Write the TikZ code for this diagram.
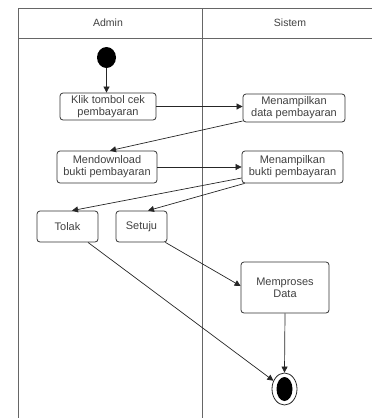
\documentclass[tikz,border=0pt]{standalone}
\usepackage{fontspec}
\setmainfont{Liberation Sans}
\usetikzlibrary{arrows.meta,shapes.geometric}
\begin{document}
\begin{tikzpicture}[x=1pt,y=-1pt,
  act/.style={draw=black!80,line width=0.8pt,rounded corners=3pt,align=center,inner sep=0pt,font=\fontsize{11}{12}\selectfont,text=black!75},
  lane/.style={draw=black!60,line width=1pt},
  flow/.style={draw=black!85,line width=0.7pt,-{Triangle[length=6pt,width=6pt]}},
  lbl/.style={font=\fontsize{10.5}{12}\selectfont,text=black!75}]
\useasboundingbox (0,0) rectangle (372,418);
% swimlanes
\draw[lane] (372,8) -- (18,8) -- (18,418);
\draw[lane] (18,38) -- (372,38);
\draw[lane] (202,8) -- (202,418);
\node[lbl] (hadmin) at (108,23) {Admin};
\node[lbl] (hsistem) at (290,23) {Sistem};
% nodes
\node[ellipse,fill=black,minimum width=19pt,minimum height=21pt,inner sep=0pt] (start) at (106.5,57.5) {};
\node[act,minimum width=96pt,minimum height=27pt] (klik) at (108,106.5) {Klik tombol cek\\pembayaran};
\node[act,minimum width=102pt,minimum height=28pt] (mdata) at (294,108) {Menampilkan\\data pembayaran};
\node[act,minimum width=100pt,minimum height=32pt] (mdown) at (107,167) {Mendownload\\bukti pembayaran};
\node[act,minimum width=101pt,minimum height=32pt] (mbukti) at (292.5,167) {Menampilkan\\bukti pembayaran};
\node[act,minimum width=61pt,minimum height=31pt] (tolak) at (67.5,226.5) {Tolak};
\node[act,minimum width=51pt,minimum height=31pt] (setuju) at (141.5,226.5) {Setuju};
\node[act,minimum width=88pt,minimum height=51pt] (proses) at (285,287.5) {Memproses\\Data};
\node[ellipse,draw=black!85,line width=0.8pt,minimum width=25pt,minimum height=32pt,inner sep=0pt] (final) at (284.5,389) {};
\node[ellipse,fill=black,minimum width=16pt,minimum height=24pt,inner sep=0pt] (finalin) at (284.5,389) {};
% flows
\draw[flow] (start) -- (klik.north -| start);
\draw[flow] (klik.east) -- (mdata.west |- klik.east);
\draw[flow] ([yshift=-13pt]mdata.west) -- ([xshift=3pt]mdown.north);
\draw[flow] (mdown.east) -- (mbukti.west |- mdown.east);
\draw[flow] ([yshift=-11pt]mbukti.west) -- ([xshift=4.5pt]tolak.north);
\draw[flow] ([xshift=3pt]mbukti.south west) -- ([xshift=6.5pt]setuju.north);
\draw[flow] ([xshift=-2pt]setuju.south east) -- ([yshift=1.5pt]proses.west);
\draw[flow] ([xshift=20.5pt]tolak.south) -- (final);
\draw[flow] (proses.south) -- (final.north);
\end{tikzpicture}
\end{document}
